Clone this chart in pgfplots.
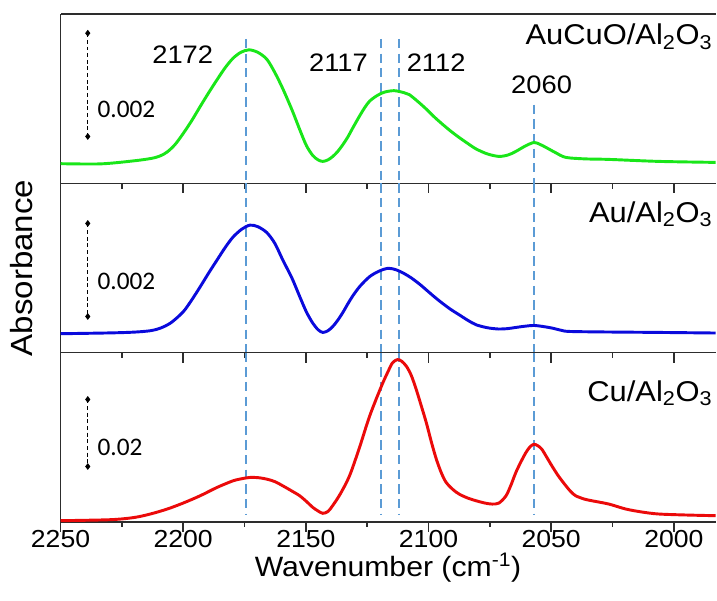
\documentclass[border=0pt]{standalone}
\usepackage{pgfplots}
\pgfplotsset{compat=1.18}
\usepgfplotslibrary{groupplots}
\usepackage{fontspec}
\setmainfont[FakeStretch=1.08]{Liberation Sans}
\newfontfamily\calfont{Carlito}
\definecolor{cgreen}{RGB}{25,230,25}
\definecolor{cblue}{RGB}{10,10,220}
\definecolor{cred}{RGB}{235,10,10}
\definecolor{dashblue}{RGB}{91,155,213}
\definecolor{axisgray}{RGB}{45,45,45}

\pgfplotstableread{
w h
2250.0 19.7
2233.7 19.5
2220.3 22.5
2213.0 25
2209.4 27.5
2206.5 31.5
2203.3 39
2200.0 50
2196.5 63
2193.1 77
2189.6 91
2186.2 104
2182.9 116
2179.7 125.5
2176.5 131.5
2173.2 134
2169.6 131.5
2165.9 124.5
2162.6 111
2159.4 95
2155.7 74
2152.5 54
2149.8 38
2147.2 28
2145.0 23.5
2143.1 22
2141.0 23.5
2139.0 27
2137.0 32
2135.0 38.5
2133.0 46
2131.0 55
2128.0 68
2126.0 76
2124.0 82.5
2121.0 88
2118.0 91.5
2114.0 93
2110.0 91
2107.8 89
2104.3 82
2100.9 74.5
2097.6 66.5
2094.4 59.5
2091.0 52.5
2087.5 46
2084.0 40
2080.6 34.5
2076.0 29.5
2071.3 27
2067.5 28.5
2064.4 32
2060.5 37.5
2057.0 41
2054.5 39
2052.1 36
2048.0 30.5
2044.0 26
2036.0 24.5
2026.5 24
2006.2 22
1983.0 21
}\greendata

\pgfplotstableread{
w h
2250.0 19
2230.0 19.8
2220.0 20.6
2213.4 22
2209.4 24.5
2205.0 30
2200.0 41
2196.5 53
2193.1 66
2189.6 80
2186.2 93
2182.9 105.5
2179.7 116
2176.1 124
2172.8 128
2169.6 126.5
2165.9 120.5
2162.6 109.5
2159.4 93
2155.7 75
2152.5 56.3
2149.8 41
2147.2 29.7
2145.0 23
2143.1 20.3
2141.0 22
2139.0 26.3
2137.0 32.5
2135.0 40
2133.0 48.5
2131.0 56.5
2128.0 66.5
2124.0 76.3
2120.0 82
2116.3 84.7
2113.0 83
2110.0 79.5
2107.0 75
2103.5 68.5
2100.9 63
2097.6 56
2094.4 49.7
2091.0 43.5
2087.5 38
2084.0 32.5
2080.6 28
2076.0 25
2071.3 23.7
2067.5 24.2
2064.4 25.3
2060.5 26.6
2057.0 27.3
2053.5 26.3
2049.7 24.7
2046.0 22.5
2042.8 21.3
2030.0 20.8
2006.2 20.3
1983.0 19.7
}\bluedata

\pgfplotstableread{
w h
2250.0 1.3
2229.7 2.3
2220.0 4.5
2213.4 8
2206.5 13
2200.0 19
2193.1 26.3
2186.2 34.7
2179.7 41.3
2176.0 43.5
2172.8 44.7
2169.5 44.5
2165.9 43
2162.6 40.5
2159.4 36.3
2156.0 31.5
2152.5 26.3
2149.5 20
2147.2 14.7
2145.0 11
2143.1 8.7
2141.0 10.5
2139.1 16.3
2136.0 28
2132.2 46.3
2128.1 75
2124.0 106.3
2119.2 136.3
2116.5 151
2114.7 159.7
2112.7 163
2111.0 161.5
2109.0 156.3
2107.0 147
2105.0 133
2103.0 117
2100.9 99.7
2098.8 80
2096.8 63
2094.8 49.5
2092.8 39.7
2090.0 32.5
2087.5 28
2084.0 24
2080.6 21.3
2077.0 19
2074.1 18
2071.3 19
2068.4 26.3
2066.4 37
2064.4 49.7
2062.3 60.5
2060.3 69.7
2058.6 75.5
2057.0 78
2055.4 76.5
2053.8 73
2051.8 65
2049.7 56.3
2047.0 46
2044.0 36.3
2042.0 30.5
2040.0 26.3
2036.5 23
2033.4 21.3
2026.5 18
2019.6 13
2013.0 10
2006.2 8
1995.0 7
1983.0 6.3
}\reddata

\pgfplotsset{
  tickseg/.style={axisgray, line width=1.1pt, no marks, forget plot, unbounded coords=jump},
}
\newcommand{\tickmarks}{%
  \addplot[tickseg] coordinates {(2250,0) (2250,-10) (2250,nan) (2200,0) (2200,-10) (2200,nan) (2150,0) (2150,-10) (2150,nan) (2100,0) (2100,-10) (2100,nan) (2050,0) (2050,-10) (2050,nan) (2000,0) (2000,-10)};
  \addplot[tickseg] coordinates {(2225,0) (2225,-5.5) (2225,nan) (2175,0) (2175,-5.5) (2175,nan) (2125,0) (2125,-5.5) (2125,nan) (2075,0) (2075,-5.5) (2075,nan) (2025,0) (2025,-5.5)};
  \addplot[axisgray, line width=1.1pt, forget plot] coordinates {(2250,0) (2250,170)};
}

\begin{document}
\begin{tikzpicture}
\begin{groupplot}[
  group style={group size=1 by 3, vertical sep=0pt,
    xticklabels at=edge bottom, xlabels at=edge bottom},
  width=492.2pt, height=127.25pt, scale only axis,
  x dir=reverse, xmin=1983, xmax=2250,
  ymin=0, ymax=170,
  separate axis lines,
  x axis line style={axisgray, line width=1.1pt},
  y axis line style={draw=none},
  xtick={2250,2200,2150,2100,2050,2000},
  xticklabels={2250,2200,2150,2100,2050,2000},
  xtick style={draw=none},
  ytick=\empty,
  xticklabel style={font=\fontsize{18.5}{21}\selectfont, yshift=-3pt},
  clip=false,
]
\nextgroupplot
\tickmarks
\addplot[dashblue, line width=1.5pt, dash pattern=on 7pt off 4pt] coordinates {(2174.5,145) (2174.5,0)};
\addplot[dashblue, line width=1.5pt, dash pattern=on 7pt off 4pt] coordinates {(2119.2,145) (2119.2,0)};
\addplot[dashblue, line width=1.5pt, dash pattern=on 7pt off 4pt] coordinates {(2112.1,145) (2112.1,0)};
\addplot[dashblue, line width=1.5pt, dash pattern=on 7pt off 4pt] coordinates {(2057.0,79) (2057.0,0)};
\addplot[cgreen, line width=2.2pt, smooth, tension=0.5] table[x=w, y=h] {\greendata};
\addplot[black, line width=0.7pt, densely dashed, mark=diamond*, mark size=2pt, mark options={solid}] coordinates {(2238.9,150.7) (2238.9,47)};
\node[anchor=west, font=\calfont\fontsize{19}{22}\selectfont] at (axis cs:2236.8,74) {0.002};
\node[font=\fontsize{19}{22}\selectfont] at (axis cs:2200.2,129) {2172};
\node[font=\fontsize{19}{22}\selectfont] at (axis cs:2136.7,121.5) {2117};
\node[font=\fontsize{19}{22}\selectfont] at (axis cs:2096.9,121.5) {2112};
\node[font=\fontsize{19}{22}\selectfont] at (axis cs:2053.9,99) {2060};
\node[anchor=base east, inner sep=0pt, font=\fontsize{21.5}{24}\selectfont] at (axis cs:1984.2,139) {AuCuO/Al\textsubscript{2}O\textsubscript{3}};

\nextgroupplot[ylabel={Absorbance},
  ylabel style={at={(axis description cs:-0.035,0.5)}, anchor=south, font=\fontsize{23}{26}\selectfont}]
\tickmarks
\addplot[dashblue, line width=1.5pt, dash pattern=on 7pt off 4pt] coordinates {(2174.5,170) (2174.5,0)};
\addplot[dashblue, line width=1.5pt, dash pattern=on 7pt off 4pt] coordinates {(2119.2,170) (2119.2,0)};
\addplot[dashblue, line width=1.5pt, dash pattern=on 7pt off 4pt] coordinates {(2112.1,170) (2112.1,0)};
\addplot[dashblue, line width=1.5pt, dash pattern=on 7pt off 4pt] coordinates {(2057.0,170) (2057.0,0)};
\addplot[cblue, line width=2.2pt, smooth, tension=0.5] table[x=w, y=h] {\bluedata};
\addplot[black, line width=0.7pt, densely dashed, mark=diamond*, mark size=2pt, mark options={solid}] coordinates {(2238.9,129.7) (2238.9,36.3)};
\node[anchor=west, font=\calfont\fontsize{19}{22}\selectfont] at (axis cs:2236.8,71.3) {0.002};
\node[anchor=base east, inner sep=0pt, font=\fontsize{21.5}{24}\selectfont] at (axis cs:1984.2,131) {Au/Al\textsubscript{2}O\textsubscript{3}};

\nextgroupplot[xlabel={Wavenumber (cm\textsuperscript{-1})},
  xlabel style={font=\fontsize{21}{24}\selectfont, yshift=3pt}]
\tickmarks
\addplot[dashblue, line width=1.5pt, dash pattern=on 7pt off 4pt] coordinates {(2174.5,170) (2174.5,8)};
\addplot[dashblue, line width=1.5pt, dash pattern=on 7pt off 4pt] coordinates {(2119.2,170) (2119.2,8)};
\addplot[dashblue, line width=1.5pt, dash pattern=on 7pt off 4pt] coordinates {(2112.1,170) (2112.1,8)};
\addplot[dashblue, line width=1.5pt, dash pattern=on 7pt off 4pt] coordinates {(2057.0,170) (2057.0,8)};
\addplot[cred, line width=2.2pt, smooth, tension=0.5] table[x=w, y=h] {\reddata};
\addplot[black, line width=0.7pt, densely dashed, mark=diamond*, mark size=2pt, mark options={solid}] coordinates {(2238.9,123) (2238.9,55.7)};
\node[anchor=west, font=\calfont\fontsize{19}{22}\selectfont] at (axis cs:2236.8,74.7) {0.02};
\node[anchor=base east, inner sep=0pt, font=\fontsize{21.5}{24}\selectfont] at (axis cs:1984.2,121) {Cu/Al\textsubscript{2}O\textsubscript{3}};
\end{groupplot}
\path ([xshift=-45.5pt,yshift=-59.25pt]group c1r3.south west) rectangle ([yshift=10.5pt]group c1r1.north east);
\end{tikzpicture}
\end{document}
